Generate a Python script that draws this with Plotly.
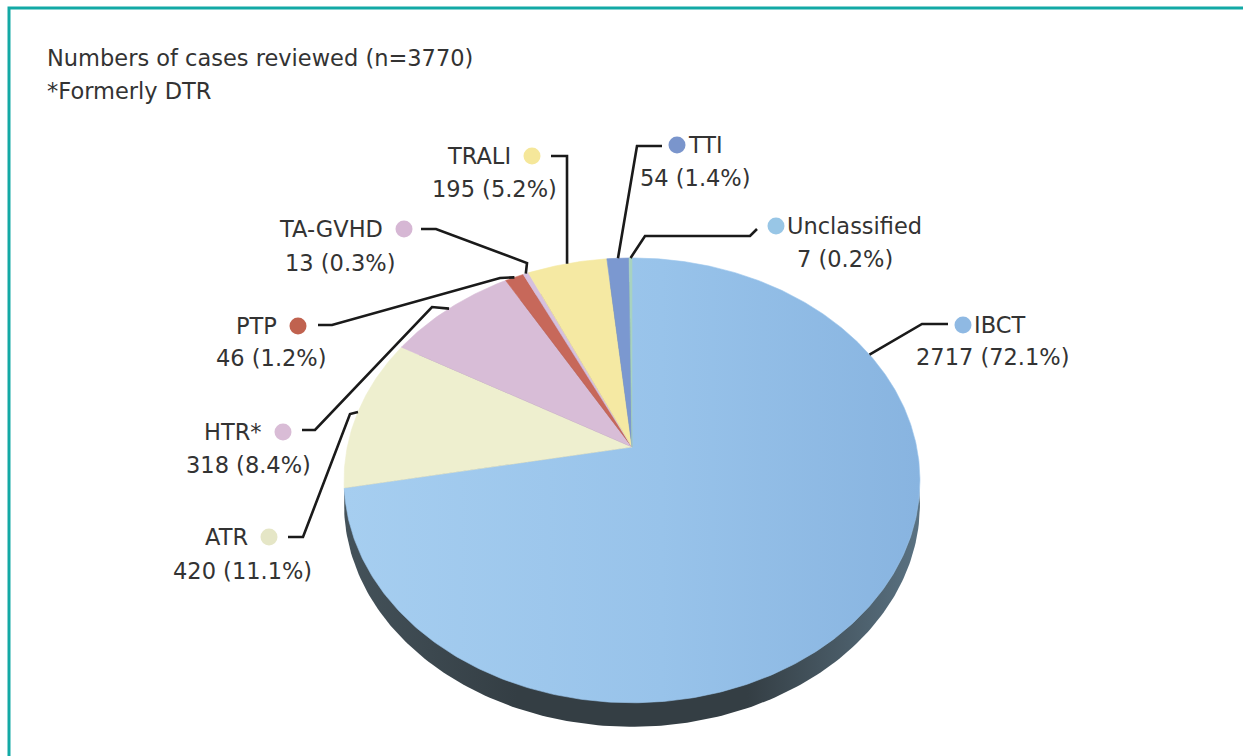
import numpy as np
import plotly.graph_objects as go

# ---------------- data ----------------
categories = ["IBCT", "ATR", "HTR*", "PTP", "TA-GVHD", "TRALI", "TTI", "Unclassified"]
counts = [2717, 420, 318, 46, 13, 195, 54, 7]
title_lines = ["Numbers of cases reviewed (n=3770)", "*Formerly DTR"]

# ---------------- styles ----------------
slice_colors = ["#9cc6ec", "#eeefcf", "#d8bdd7", "#c7685a", "#d6c0de", "#f5e9a3", "#7b98d0", "#a8d3c0"]
dot_colors = ["#8fb9e3", "#e5e6c6", "#d9bcd6", "#c0624f", "#d6b7d4", "#f5e79a", "#7a95cc", "#98c6e6"]
FONT = "DejaVu Sans"
TXT = "#333333"
FS = 22.5

# pie geometry (pixel space, perspective-projected disk)
CX, CY, A, B, K, DEPTH = 632, 447, 284.7, 217.4, 0.15, 24

# label layout: dot position, side of text, count text centre
label_layout = {
    "IBCT": dict(dot=(963, 325), side="right", count=(992, 357)),
    "ATR": dict(dot=(269, 537), side="left", count=(242, 571)),
    "HTR*": dict(dot=(283, 432), side="left", count=(248, 465)),
    "PTP": dict(dot=(298, 326), side="left", count=(271, 358)),
    "TA-GVHD": dict(dot=(404, 229), side="left", count=(340, 263)),
    "TRALI": dict(dot=(532, 156), side="left", count=(494, 189)),
    "TTI": dict(dot=(677, 145), side="right", count=(695, 178)),
    "Unclassified": dict(dot=(776, 226), side="right", count=(845, 259)),
}
# leader line elbows (from label towards the pie); final point is on the rim
leader_elbows = {
    "IBCT": [(948, 324), (922, 324)],
    "ATR": [(288, 537), (303, 537), (350, 414)],
    "HTR*": [(302, 430), (315, 430), (432, 307)],
    "PTP": [(318, 325), (332, 325), (500, 278)],
    "TA-GVHD": [(421, 229), (436, 229), (527, 263)],
    "TRALI": [(551, 156), (567, 156)],
    "TTI": [(662, 146), (637, 146)],
    "Unclassified": [(757, 229), (750, 236), (645, 236)],
}
anchor_override = {"IBCT": 0.175}  # fraction of the turn where IBCT's leader meets the rim


def proj(frac, shift=0.0):
    """fraction of a clockwise turn from 12 o'clock -> pixel coords"""
    th = np.pi / 2 - 2 * np.pi * np.asarray(frac)
    u, v = np.cos(th), np.sin(th)
    d = 1 + K * v
    return CX + A * u / d, CY - B * v / d + shift


total = sum(counts)
cum = np.concatenate([[0], np.cumsum(counts)]) / total

fig = go.Figure()

# side of the disk (shifted rim)
t = np.linspace(0, 1, 400)
sx, sy = proj(t, DEPTH)
fig.add_trace(go.Scatter(
    x=sx, y=sy, mode="lines", fill="toself", line=dict(width=0, color="#343f45"),
    fillgradient=dict(type="horizontal",
                      colorscale=[[0, "#44525a"], [0.3, "#343e44"], [0.7, "#343e44"], [1, "#5a7282"]]),
    hoverinfo="skip", showlegend=False))

# top surface slices
for i, cat in enumerate(categories):
    a0, a1 = cum[i], cum[i + 1]
    n = max(3, int(600 * (a1 - a0)))
    f = np.linspace(a0, a1, n)
    px, py = proj(f)
    xs = np.concatenate([[CX], px, [CX]])
    ys = np.concatenate([[CY], py, [CY]])
    kw = {}
    if i == 0:
        kw["fillgradient"] = dict(type="horizontal",
                                  colorscale=[[0, "#a6cef0"], [0.55, "#98c3ea"], [1, "#88b4e0"]])
    fig.add_trace(go.Scatter(
        x=xs, y=ys, mode="lines", fill="toself",
        line=dict(width=0.6, color=slice_colors[i]), fillcolor=slice_colors[i],
        hoverinfo="skip", showlegend=False, **kw))

# leader lines
for i, cat in enumerate(categories):
    fa = anchor_override.get(cat, (cum[i] + cum[i + 1]) / 2)
    ax, ay = proj(fa)
    pts = leader_elbows[cat] + [(float(ax), float(ay))]
    fig.add_trace(go.Scatter(
        x=[p[0] for p in pts], y=[p[1] for p in pts], mode="lines",
        line=dict(color="#1a1a1a", width=2.6), hoverinfo="skip", showlegend=False))

# dots
fig.add_trace(go.Scatter(
    x=[label_layout[c]["dot"][0] for c in categories],
    y=[label_layout[c]["dot"][1] for c in categories],
    mode="markers", marker=dict(size=17, color=dot_colors, line=dict(width=0)),
    hoverinfo="skip", showlegend=False))

annotations = []
for i, cat in enumerate(categories):
    L = label_layout[cat]
    dx, dy = L["dot"]
    if L["side"] == "left":
        annotations.append(dict(x=dx - 19, y=dy, text=cat, xanchor="right", yanchor="middle"))
    else:
        annotations.append(dict(x=dx + 9, y=dy, text=cat, xanchor="left", yanchor="middle"))
    cx_, cy_ = L["count"]
    annotations.append(dict(x=cx_, y=cy_, text=f"{counts[i]} ({100 * counts[i] / total:.1f}%)",
                            xanchor="center", yanchor="middle"))
annotations.append(dict(x=45, y=58, text=title_lines[0], xanchor="left", yanchor="middle"))
annotations.append(dict(x=45, y=91, text=title_lines[1], xanchor="left", yanchor="middle"))
for a in annotations:
    a.update(xref="x", yref="y", showarrow=False, font=dict(family=FONT, size=FS, color=TXT))

fig.update_layout(
    width=1243, height=756, margin=dict(l=0, r=0, t=0, b=0),
    paper_bgcolor="white", plot_bgcolor="white",
    xaxis=dict(range=[0, 1243], visible=False, fixedrange=True),
    yaxis=dict(range=[756, 0], visible=False, fixedrange=True),
    annotations=annotations,
    shapes=[dict(type="rect", xref="x", yref="y", x0=9, y0=8, x1=1270, y1=790,
                 line=dict(color="#13a9a5", width=3), fillcolor="rgba(0,0,0,0)", layer="below")],
)

fig.write_html("out.html", config={"displayModeBar": False},
               post_script="document.body.style.margin='0';document.body.style.overflow='hidden';")
